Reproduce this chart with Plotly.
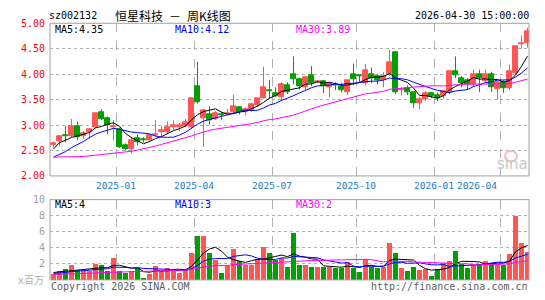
import numpy as np
import plotly.graph_objects as go

W, H = 545, 300

# ---------------- data (weekly, 恒星科技 sz002132) ----------------
opens = [2.60, 2.68, 2.80, 2.77, 2.97, 2.77, 2.85, 2.95, 3.26, 3.14,
         2.95, 2.92, 2.60, 2.52, 2.74, 2.72, 2.71, 2.79, 2.85, 2.85,
         2.96, 2.95, 2.98, 2.95, 3.76, 3.13, 3.21, 3.12, 3.21, 3.22,
         3.26, 3.34, 3.26, 3.29, 3.38, 3.53, 3.69, 3.62, 3.55, 3.78,
         3.99, 3.89, 3.74, 3.97, 3.85, 3.86, 3.74, 3.79, 3.77, 3.64,
         3.99, 3.97, 3.82, 3.99, 3.96, 3.88, 3.99, 4.43, 3.69, 3.72,
         3.64, 3.42, 3.50, 3.63, 3.59, 3.57, 3.64, 4.06, 3.91, 3.88,
         3.80, 4.00, 3.86, 4.00, 3.70, 3.84, 3.72, 4.02, 4.59, 4.60]
highs = [2.68, 2.79, 2.98, 3.12, 3.07, 2.88, 2.93, 3.23, 3.31, 3.17,
         3.10, 2.95, 2.64, 2.77, 2.82, 2.76, 2.82, 3.10, 2.98, 3.07,
         3.09, 3.04, 3.12, 3.52, 4.24, 3.32, 3.37, 3.27, 3.26, 3.32,
         3.59, 3.37, 3.34, 3.44, 3.52, 4.15, 3.89, 3.74, 3.84, 3.84,
         4.35, 3.93, 3.97, 4.16, 3.88, 3.88, 3.83, 3.84, 3.83, 3.87,
         4.21, 3.99, 4.20, 4.13, 4.00, 4.04, 4.48, 4.43, 3.74, 3.78,
         3.65, 3.55, 3.67, 3.65, 3.64, 3.69, 4.06, 4.35, 3.96, 3.92,
         4.09, 4.09, 4.09, 4.05, 3.86, 3.88, 4.19, 4.55, 4.76, 4.91]
lows = [2.56, 2.59, 2.66, 2.76, 2.71, 2.73, 2.73, 2.94, 3.10, 2.82,
        2.70, 2.55, 2.50, 2.44, 2.60, 2.66, 2.69, 2.77, 2.77, 2.82,
        2.90, 2.88, 2.95, 2.92, 3.42, 2.57, 3.01, 3.10, 3.10, 3.19,
        3.23, 3.21, 3.19, 3.26, 3.36, 3.52, 3.52, 3.55, 3.48, 3.61,
        3.80, 3.70, 3.69, 3.77, 3.82, 3.63, 3.55, 3.69, 3.64, 3.59,
        3.78, 3.83, 3.78, 3.82, 3.80, 3.74, 3.97, 3.61, 3.58, 3.59,
        3.34, 3.31, 3.47, 3.53, 3.47, 3.52, 3.61, 3.92, 3.74, 3.69,
        3.75, 3.65, 3.83, 3.65, 3.50, 3.63, 3.69, 3.99, 4.50, 4.52]
closes = [2.64, 2.77, 2.78, 2.98, 2.76, 2.84, 2.91, 3.23, 3.12, 2.99,
          2.97, 2.57, 2.52, 2.71, 2.66, 2.70, 2.79, 2.81, 2.90, 2.96,
          2.99, 2.99, 3.06, 3.52, 3.45, 3.30, 3.10, 3.23, 3.19, 3.24,
          3.36, 3.26, 3.31, 3.40, 3.52, 3.74, 3.67, 3.57, 3.80, 3.64,
          3.89, 3.76, 3.93, 3.82, 3.86, 3.76, 3.83, 3.78, 3.69, 3.87,
          3.89, 3.95, 4.07, 3.92, 3.88, 3.96, 4.23, 3.64, 3.70, 3.65,
          3.42, 3.50, 3.63, 3.57, 3.52, 3.67, 4.06, 3.97, 3.83, 3.80,
          4.00, 3.91, 4.00, 3.74, 3.84, 3.72, 4.05, 4.55, 4.61, 4.84]
volumes = [0.75, 1.10, 1.45, 1.85, 1.25, 1.20, 1.20, 2.05, 1.90, 1.20,
           2.75, 1.20, 0.90, 1.20, 1.55, 0.30, 0.80, 1.80, 1.15, 1.55,
           1.20, 0.92, 1.40, 3.35, 5.55, 5.55, 3.35, 2.55, 0.90, 1.80,
           3.95, 2.35, 1.90, 1.95, 2.65, 4.15, 3.35, 2.50, 2.80, 1.70,
           5.90, 1.90, 1.85, 1.70, 1.60, 1.70, 1.60, 1.50, 1.50, 2.25,
           1.50, 1.00, 2.65, 1.70, 1.50, 1.70, 4.60, 3.45, 1.50, 1.10,
           1.70, 1.30, 1.40, 0.55, 1.40, 2.10, 2.35, 3.70, 2.00, 1.50,
           1.90, 2.05, 2.35, 2.10, 2.05, 1.95, 3.30, 8.05, 4.60, 3.55]
# weeks before the visible window (needed for the moving averages)
prior_closes = [2.80, 2.78, 2.75, 2.70, 2.74, 2.72, 2.68, 2.70, 2.66, 2.67,
                2.30, 2.15, 2.05, 2.00, 1.98, 1.95, 1.93, 1.95, 1.94, 1.95,
                2.25, 2.22, 2.20, 2.18, 2.20, 2.15, 2.55, 2.70, 2.61]
prior_volumes = [0.70, 0.65, 0.60, 0.72, 0.68, 0.60, 0.55, 0.58, 0.62, 0.66,
                 0.60, 0.58, 0.55, 0.62, 0.65, 0.60, 0.58, 0.62, 0.64, 0.60,
                 0.65, 0.70, 0.68, 0.72, 0.65, 0.70, 1.05, 1.20, 0.90]

month_ticks = [11, 24, 37, 51, 64, 75]          # first week of each labelled month
month_labels = ["2025-01", "2025-04", "2025-07", "2025-10", "2026-01", "2026-04"]
price_ticks = [2.0, 2.5, 3.0, 3.5, 4.0, 4.5, 5.0]
vol_ticks = [2, 4, 6, 8, 10]

title_code = "sz002132"
title_name = "恒星科技\u2002－\u2002周K线图"
title_time = "2026-04-30 15:00:00"
ma_price_text = ["MA5:4.35", "MA10:4.12", "MA30:3.89"]
ma_vol_text = ["MA5:4", "MA10:3", "MA30:2"]

# ---------------- styles ----------------
RED = "#ff5555"
GREEN = "#00a000"
MA_COLORS = ["#000000", "#0000ff", "#ff00ff"]
MONO = "DejaVu Sans Mono"
BORDER = "#a0a0a0"
GRID = "#b0b0b0"

n = len(closes)
xs = list(range(n))
up = [c >= o for o, c in zip(opens, closes)]
colors = [RED if u else GREEN for u in up]


def sma(prior, vals, k):
    arr = np.array(prior + vals, dtype=float)
    off = len(prior)
    return [arr[i - k + 1:i + 1].mean() for i in range(off, len(arr))]


fig = go.Figure()

# wicks
for flag, col in [(True, RED), (False, GREEN)]:
    wx, wy = [], []
    for i in range(n):
        if up[i] == flag:
            wx += [i, i, None]
            wy += [lows[i], highs[i], None]
    fig.add_trace(go.Scatter(x=wx, y=wy, mode="lines", line=dict(color=col, width=1),
                             hoverinfo="skip", showlegend=False, xaxis="x", yaxis="y"))

# bodies
fig.add_trace(go.Bar(x=xs, base=[min(o, c) for o, c in zip(opens, closes)],
                     y=[abs(c - o) for o, c in zip(opens, closes)],
                     width=0.67, marker=dict(color=colors, line=dict(color=colors, width=1)),
                     showlegend=False, xaxis="x", yaxis="y"))

# price MAs
for k, col in zip([5, 10, 30], MA_COLORS):
    fig.add_trace(go.Scatter(x=xs, y=sma(prior_closes, closes, k), mode="lines",
                             line=dict(color=col, width=1), showlegend=False,
                             xaxis="x", yaxis="y"))

# volume bars
fig.add_trace(go.Bar(x=xs, y=volumes, width=0.83, marker=dict(color=colors, line=dict(width=0)),
                     showlegend=False, xaxis="x2", yaxis="y2"))
for k, col in zip([5, 10, 30], MA_COLORS):
    fig.add_trace(go.Scatter(x=xs, y=sma(prior_volumes, volumes, k), mode="lines",
                             line=dict(color=col, width=1), showlegend=False,
                             xaxis="x2", yaxis="y2"))

XD = [50 / W, 529 / W]
YD1 = [1 - 177 / H, 1 - 18 / H]
YD2 = [1 - 285.3 / H, 1 - 201.7 / H]
x0 = -0.5 - 0.5 / 6.0
xrange = [x0, x0 + 479 / 6.0]
grid_x = [t - 0.5 for t in month_ticks]

common_x = dict(domain=XD, range=xrange, tickvals=grid_x, showticklabels=False,
                showgrid=True, gridcolor=GRID, griddash="dash", gridwidth=1,
                zeroline=False, showline=False, ticks="", fixedrange=True)
fig.update_layout(
    width=W, height=H, margin=dict(l=0, r=0, t=0, b=0),
    paper_bgcolor="white", plot_bgcolor="white", barmode="overlay",
    bargap=0, showlegend=False,
    xaxis=dict(anchor="y", **common_x),
    xaxis2=dict(anchor="y2", matches="x", **common_x),
    yaxis=dict(domain=YD1, range=[2, 5], tickvals=price_ticks,
               ticktext=[f"{v:.2f}" for v in price_ticks],
               tickfont=dict(family=MONO, size=10, color="#ff0000"),
               showgrid=True, gridcolor=GRID, griddash="dot", zeroline=False,
               ticks="", ticklabelstandoff=4, showline=False),
    yaxis2=dict(domain=YD2, range=[0, 10], tickvals=vol_ticks,
                ticktext=[str(v) for v in vol_ticks],
                tickfont=dict(family=MONO, size=10, color="#a0a0a0"),
                showgrid=True, gridcolor=GRID, griddash="dot", zeroline=False,
                ticks="", ticklabelstandoff=4, showline=False),
)

# panel borders
for yd in (YD1, YD2):
    fig.add_shape(type="rect", xref="paper", yref="paper", x0=XD[0], x1=XD[1],
                  y0=yd[0], y1=yd[1], line=dict(color=BORDER, width=1), layer="above")


def ann(text, x, y, color="#000000", size=10, family=MONO, xanchor="left", **kw):
    fig.add_annotation(text=text, x=x / W, y=1 - y / H, xref="paper", yref="paper",
                       showarrow=False, xanchor=xanchor, yanchor="middle",
                       font=dict(family=family, size=size, color=color), **kw)


ann(title_code, 47, 10)
ann(title_name, 113, 10, size=12, family="Noto Sans CJK SC")
ann(title_time, 531, 10, xanchor="right")

for txt, xp, col in zip(ma_price_text, [53, 173, 294], MA_COLORS):
    ann(txt, xp, 24, color=col)
for txt, xp, col in zip(ma_vol_text, [53, 173, 294], MA_COLORS):
    ann(txt, xp, 207, color=col)

# month labels
for i, (g, lab) in enumerate(zip(grid_x, month_labels)):
    last = i == len(month_labels) - 1
    fig.add_annotation(text=lab, x=g, xref="x", y=1 - 187 / H, yref="paper",
                       showarrow=False, xanchor="right" if last else "center",
                       yanchor="middle", xshift=-2 if last else -1,
                       font=dict(family=MONO, size=9.5, color="#1a7cc8"))

ann("x百万", 46, 286, color="#b0b0b0", xanchor="right",
    family="DejaVu Sans Mono, Noto Sans CJK SC")
ann("Copyright 2026 SINA.COM", 49, 292, color="#606060")
ann("http://finance.sina.com.cn", 530, 292, color="#606060", xanchor="right")

# sina watermark
fig.add_shape(type="circle", xref="paper", yref="paper", x0=505 / W, x1=517 / W,
              y0=1 - 162 / H, y1=1 - 151 / H, line=dict(color="#f3c0c0", width=2),
              fillcolor="rgba(0,0,0,0)")
ann("sina", 512, 165, color="#c8c8c8", size=15, family="DejaVu Sans",
    xanchor="center")

fig.write_html("out.html")
